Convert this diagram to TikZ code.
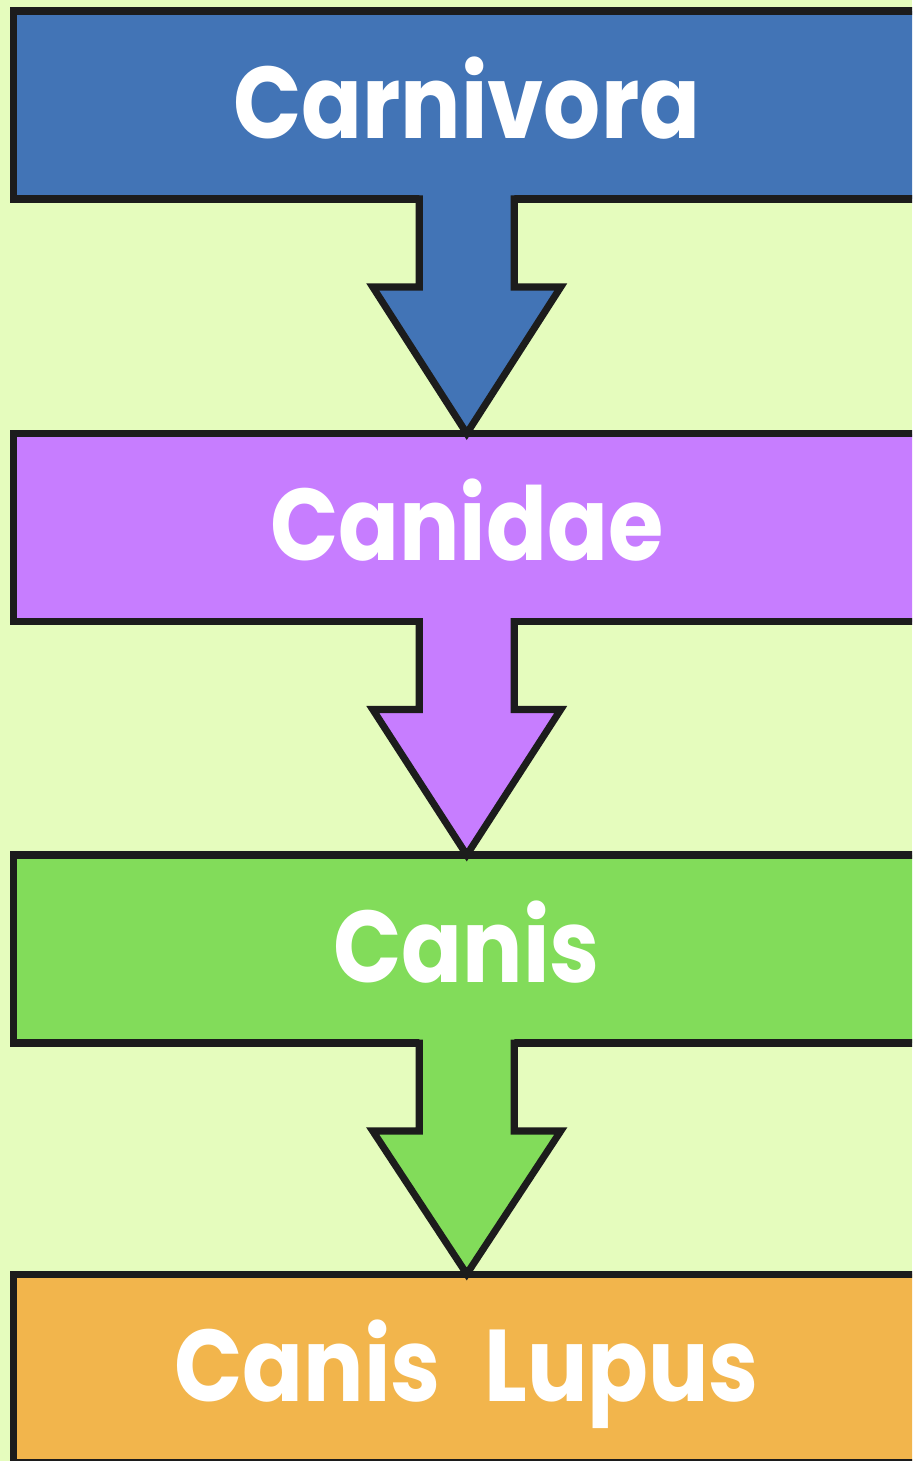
\documentclass[tikz,border=0pt]{standalone}
\usepackage{fontspec}
\newfontfamily\taxfont{Poppins}[FakeStretch=0.88, WordSpace=2.3]
\usetikzlibrary{calc}
\definecolor{bgcol} {RGB}{229,252,189}
\definecolor{edge}  {RGB}{ 28, 28, 28}
\definecolor{ordcol}{RGB}{ 66,116,182}
\definecolor{famcol}{RGB}{199,125,255}
\definecolor{gencol}{RGB}{130,220, 90}
\definecolor{spccol}{RGB}{242,181, 76}
\tikzset{
  BX/.style={draw=edge, line width=4pt, minimum width=18.13cm, minimum height=3.76cm,
             inner sep=0pt, outer sep=0pt, text=white,
             font=\taxfont\bfseries\fontsize{58}{58}\selectfont,
             text height=37.6pt, text depth=0pt},
  AE/.style={draw=edge, line width=4pt, line join=miter},
}
\newcommand{\SW}{0.95}
\newcommand{\HW}{1.88}
\newcommand{\SL}{1.76}
% block arrow from box #1 down to box #2, filled #3
\newcommand{\taxarrow}[3]{%
  \fill[#3] ($(#1.south)+(-\SW,0.1)$) -- ($(#1.south)+(-\SW,-\SL)$)
    -- ($(#1.south)+(-\HW,-\SL)$) -- (#2.north) -- ($(#1.south)+(\HW,-\SL)$)
    -- ($(#1.south)+(\SW,-\SL)$) -- ($(#1.south)+(\SW,0.1)$) -- cycle;
  \draw[AE] ($(#1.south)+(-\SW,0.07)$) -- ($(#1.south)+(-\SW,-\SL)$)
    -- ($(#1.south)+(-\HW,-\SL)$) -- (#2.north) -- ($(#1.south)+(\HW,-\SL)$)
    -- ($(#1.south)+(\SW,-\SL)$) -- ($(#1.south)+(\SW,0.07)$);
}
\begin{document}
\begin{tikzpicture}

\useasboundingbox (0,0) rectangle (18.24,-29.22);
\clip (0,0) rectangle (18.24,-29.22);
\fill[bgcol] (0,0) rectangle (18.24,-29.22);

%% ================================================================
%%  BOXES
%% ================================================================
\node[BX, fill=ordcol] (order)   at (9.335,-2.10)  {Carnivora};
\node[BX, fill=famcol] (family)  at (9.335,-10.55) {Canidae};
\node[BX, fill=gencol] (genus)   at (9.335,-18.98) {Canis};
\node[BX, fill=spccol] (species) at (9.335,-27.36) {Canis Lupus};

%% ================================================================
%%  ARROWS
%% ================================================================
\taxarrow{order}{family}{ordcol}
\taxarrow{family}{genus}{famcol}
\taxarrow{genus}{species}{gencol}

\end{tikzpicture}
\end{document}
